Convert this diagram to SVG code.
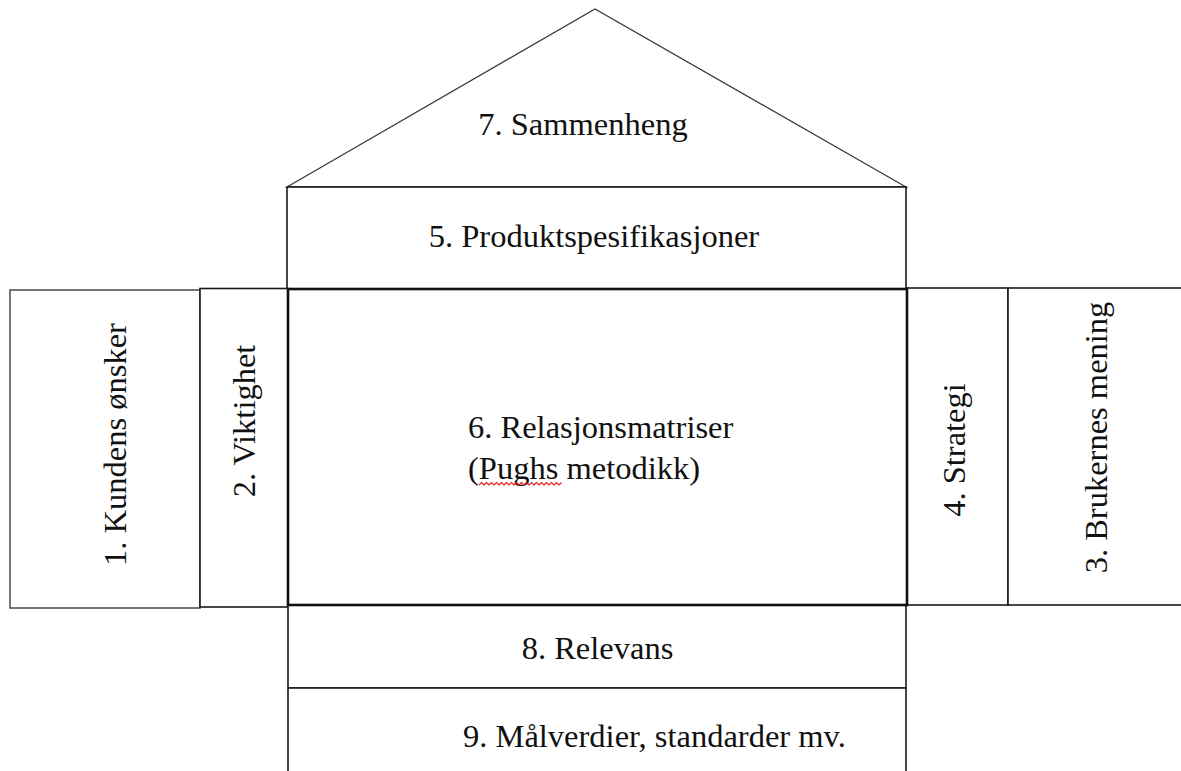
<svg xmlns="http://www.w3.org/2000/svg" width="1181" height="771" viewBox="0 0 1181 771">
  <style>
    .box { fill: #ffffff; stroke: #1a1a1a; stroke-width: 1.6; }
    .light { stroke: #555555; }
    .thick { stroke-width: 2.6; stroke: #111111; }
    .roof { fill: #ffffff; stroke: #3a3a3a; stroke-width: 1.3; }
    .lbl { font-family: "Liberation Serif", "Times New Roman", serif; font-size: 32.5px; fill: #111111; }
    .mid { text-anchor: middle; }
    .spell { fill: none; stroke: #e02020; stroke-width: 1.2; }
  </style>
  <rect x="0" y="0" width="1181" height="771" fill="#ffffff"/>
  <g id="node-7">
    <polygon class="roof" points="287,187 595,9 906,187"/>
    <text class="lbl mid" x="583" y="135">7. Sammenheng</text>
  </g>
  <g id="node-5">
    <rect class="box" x="287" y="187" width="619" height="102"/>
    <text class="lbl mid" x="594" y="247">5. Produktspesifikasjoner</text>
  </g>
  <g id="node-1">
    <rect class="box light" x="10" y="290" width="190" height="318"/>
    <text class="lbl mid" transform="translate(126,444.5) rotate(-90)" x="0" y="0">1. Kundens ønsker</text>
  </g>
  <g id="node-2">
    <rect class="box" x="200" y="288.5" width="88" height="318.5"/>
    <text class="lbl mid" transform="translate(255,421) rotate(-90)" x="0" y="0">2. Viktighet</text>
  </g>
  <g id="node-4">
    <rect class="box" x="907" y="288" width="101" height="317"/>
    <text class="lbl mid" transform="translate(965,450) rotate(-90)" x="0" y="0">4. Strategi</text>
  </g>
  <g id="node-3">
    <rect class="box" x="1008" y="288" width="200" height="317"/>
    <text class="lbl mid" transform="translate(1107,437.5) rotate(-90)" x="0" y="0">3. Brukernes mening</text>
  </g>
  <g id="node-8">
    <rect class="box" x="288" y="605" width="618" height="83"/>
    <text class="lbl mid" x="597.5" y="659">8. Relevans</text>
  </g>
  <g id="node-9">
    <rect class="box" x="288" y="688" width="618" height="100"/>
    <text class="lbl" x="463" y="747">9. Målverdier, standarder mv.</text>
  </g>
  <g id="node-6">
    <rect class="box thick" x="288" y="289" width="619" height="316" fill="none"/>
    <text class="lbl" x="468" y="438">6. Relasjonsmatriser</text>
    <text class="lbl" x="468" y="479">(Pughs metodikk)</text>
    <path class="spell" d="M479,485 l2.5,-2.5 l2.5,2.5 l2.5,-2.5 l2.5,2.5 l2.5,-2.5 l2.5,2.5 l2.5,-2.5 l2.5,2.5 l2.5,-2.5 l2.5,2.5 l2.5,-2.5 l2.5,2.5 l2.5,-2.5 l2.5,2.5 l2.5,-2.5 l2.5,2.5 l2.5,-2.5 l2.5,2.5 l2.5,-2.5 l2.5,2.5 l2.5,-2.5 l2.5,2.5 l2.5,-2.5 l2.5,2.5 l2.5,-2.5 l2.5,2.5 l2.5,-2.5 l2.5,2.5 l2.5,-2.5 l2.5,2.5 l2.5,-2.5 l2.5,2.5 l2.5,-2.5"/>
  </g>
  <g id="connectors"></g>
</svg>
